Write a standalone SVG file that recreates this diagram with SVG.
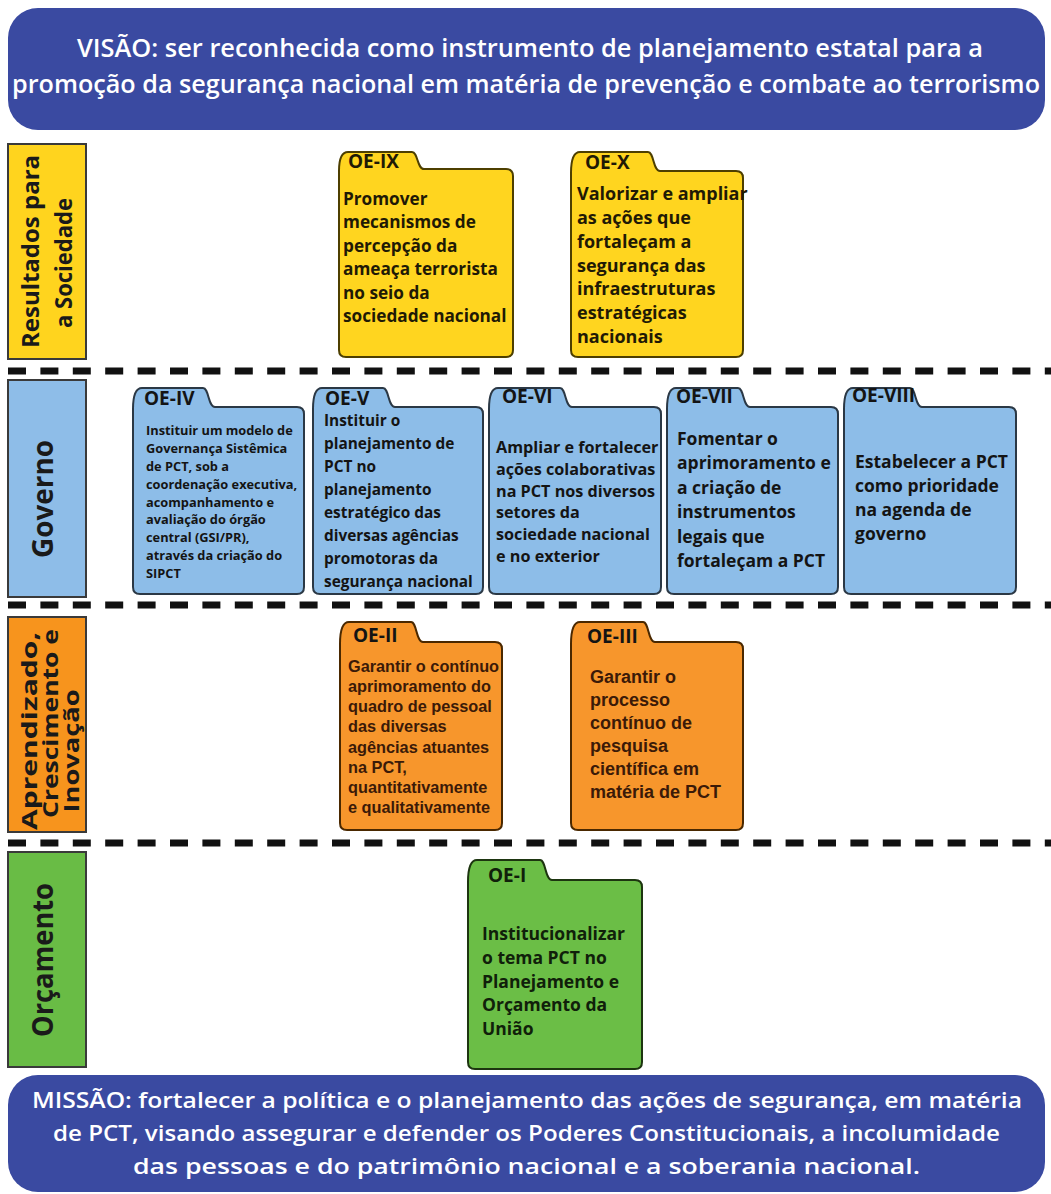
<svg xmlns="http://www.w3.org/2000/svg" width="1051" height="1194" viewBox="0 0 1051 1194">
<style>
.banner{fill:#3A4AA1}
.bt{font-family:"Open Sans","Liberation Sans",sans-serif;font-weight:600;fill:#fff;text-anchor:middle}
.lbl{stroke:#3a3a3a;stroke-width:2}
.lt{font-family:"Open Sans","Liberation Sans",sans-serif;font-weight:700;fill:#1a1a1a;text-anchor:middle}
.dash{stroke:#111;stroke-width:7;stroke-dasharray:18 14.4;fill:none}
.f{stroke-width:2;stroke-linejoin:round}
.y{fill:#FFD51F;stroke:#4d3f00}
.b{fill:#8DBDE8;stroke:#2b3845}
.o{fill:#F7962C;stroke:#4a2800}
.g{fill:#6BBE46;stroke:#1d3510}
.tab{font-family:"Open Sans","Liberation Sans",sans-serif;font-weight:700;font-size:19px;fill:#141414}
.tx{font-family:"Open Sans","Liberation Sans",sans-serif;font-weight:700;fill:#141414}
.ty{fill:#1f1a05}
.to{font-family:"Liberation Sans",Arial,sans-serif;font-weight:700;fill:#3b1a08}
.tg{fill:#10200a}
</style>

<g id="visao">
<rect class="banner" x="8" y="8" width="1037" height="122" rx="30" ry="30"/>
<text class="bt" font-size="25" x="530" y="57" textLength="906" lengthAdjust="spacingAndGlyphs">VISÃO: ser reconhecida como instrumento de planejamento estatal para a</text>
<text class="bt" font-size="25" x="526" y="93" textLength="1028" lengthAdjust="spacingAndGlyphs">promoção da segurança nacional em matéria de prevenção e combate ao terrorismo</text>
</g>

<g id="separators">
<line class="dash" x1="8" y1="371" x2="1051" y2="371"/>
<line class="dash" x1="8" y1="605" x2="1051" y2="605"/>
<line class="dash" x1="8" y1="843" x2="1051" y2="843"/>
</g>

<g id="row-resultados">
<rect class="lbl" x="8" y="144" width="78" height="215" fill="#FFD41E"/>
<text class="lt" font-size="24" transform="translate(39,251.5) rotate(-90)" textLength="193" lengthAdjust="spacingAndGlyphs">Resultados para</text>
<text class="lt" font-size="24" transform="translate(72,263) rotate(-90)" textLength="130" lengthAdjust="spacingAndGlyphs">a Sociedade</text>
</g>

<g id="row-governo">
<rect class="lbl" x="8" y="380" width="78" height="217" fill="#8EBDE8"/>
<text class="lt" font-size="28" transform="translate(53,499) rotate(-90)" textLength="118" lengthAdjust="spacingAndGlyphs">Governo</text>
</g>

<g id="row-aprendizado">
<rect class="lbl" x="8" y="617" width="78" height="215" fill="#F7941D"/>
<text class="lt" font-size="22" transform="translate(37,731) rotate(-90)" textLength="198" lengthAdjust="spacingAndGlyphs">Aprendizado,</text>
<text class="lt" font-size="22" transform="translate(58,723.5) rotate(-90)" textLength="189" lengthAdjust="spacingAndGlyphs">Crescimento e</text>
<text class="lt" font-size="22" transform="translate(79,751) rotate(-90)" textLength="123" lengthAdjust="spacingAndGlyphs">Inovação</text>
</g>

<g id="row-orcamento">
<rect class="lbl" x="8" y="852" width="78" height="215" fill="#69BC45"/>
<text class="lt" font-size="28" transform="translate(53,960) rotate(-90)" textLength="154" lengthAdjust="spacingAndGlyphs">Orçamento</text>
</g>

<g id="oe-ix">
<path class="f y" d="M346,357 Q339,357 339,350 L339,171 C339,160 341,152 348,152 L412,152 C418,152 417,169 424,169 L506,169 Q513,169 513,176 L513,350 Q513,357 506,357 Z"/>
<text class="tab ty" x="348" y="168">OE-IX</text>
<text class="tx ty" font-size="17.2">
<tspan x="343" y="205">Promover</tspan>
<tspan x="343" y="228.4">mecanismos de</tspan>
<tspan x="343" y="251.8">percepção da</tspan>
<tspan x="343" y="275.2">ameaça terrorista</tspan>
<tspan x="343" y="298.6">no seio da</tspan>
<tspan x="343" y="322">sociedade nacional</tspan>
</text>
</g>

<g id="oe-x">
<path class="f y" d="M578,357 Q571,357 571,350 L571,173 C571,161 573,152 580,152 L648,152 C654,152 653,171 660,171 L736,171 Q743,171 743,178 L743,350 Q743,357 736,357 Z"/>
<text class="tab ty" x="585" y="169">OE-X</text>
<text class="tx ty" font-size="18">
<tspan x="577" y="200">Valorizar e ampliar</tspan>
<tspan x="577" y="223.8">as ações que</tspan>
<tspan x="577" y="247.7">fortaleçam a</tspan>
<tspan x="577" y="271.5">segurança das</tspan>
<tspan x="577" y="295.3">infraestruturas</tspan>
<tspan x="577" y="319.2">estratégicas</tspan>
<tspan x="577" y="343">nacionais</tspan>
</text>
</g>

<g id="oe-iv">
<path class="f b" d="M140,594 Q133,594 133,587 L133,409 C133,398 135,388 142,388 L203,388 C209,388 208,407 215,407 L297,407 Q304,407 304,414 L304,587 Q304,594 297,594 Z"/>
<text class="tab" x="144" y="405">OE-IV</text>
<text class="tx" font-size="12.8">
<tspan x="146" y="435">Instituir um modelo de</tspan>
<tspan x="146" y="452.9">Governança Sistêmica</tspan>
<tspan x="146" y="470.8">de PCT, sob a</tspan>
<tspan x="146" y="488.6">coordenação executiva,</tspan>
<tspan x="146" y="506.5">acompanhamento e</tspan>
<tspan x="146" y="524.4">avaliação do órgão</tspan>
<tspan x="146" y="542.3">central (GSI/PR),</tspan>
<tspan x="146" y="560.1">através da criação do</tspan>
<tspan x="146" y="578">SIPCT</tspan>
</text>
</g>

<g id="oe-v">
<path class="f b" d="M320,594 Q313,594 313,587 L313,409 C313,398 315,388 322,388 L383,388 C389,388 388,407 395,407 L476,407 Q483,407 483,414 L483,587 Q483,594 476,594 Z"/>
<text class="tab" x="325" y="405">OE-V</text>
<text class="tx" font-size="15.4">
<tspan x="324" y="426">Instituir o</tspan>
<tspan x="324" y="449">planejamento de</tspan>
<tspan x="324" y="472">PCT no</tspan>
<tspan x="324" y="495">planejamento</tspan>
<tspan x="324" y="518">estratégico das</tspan>
<tspan x="324" y="541">diversas agências</tspan>
<tspan x="324" y="564">promotoras da</tspan>
<tspan x="324" y="587">segurança nacional</tspan>
</text>
</g>

<g id="oe-vi">
<path class="f b" d="M496,594 Q489,594 489,587 L489,409 C489,398 491,388 498,388 L560,388 C566,388 565,407 572,407 L654,407 Q661,407 661,414 L661,587 Q661,594 654,594 Z"/>
<text class="tab" x="502" y="403">OE-VI</text>
<text class="tx" font-size="16.2">
<tspan x="496" y="453">Ampliar e fortalecer</tspan>
<tspan x="496" y="474.8">ações colaborativas</tspan>
<tspan x="496" y="496.6">na PCT nos diversos</tspan>
<tspan x="496" y="518.4">setores da</tspan>
<tspan x="496" y="540.2">sociedade nacional</tspan>
<tspan x="496" y="562">e no exterior</tspan>
</text>
</g>

<g id="oe-vii">
<path class="f b" d="M674,594 Q667,594 667,587 L667,409 C667,398 669,388 676,388 L738,388 C744,388 743,407 750,407 L831,407 Q838,407 838,414 L838,587 Q838,594 831,594 Z"/>
<text class="tab" x="676" y="403">OE-VII</text>
<text class="tx" font-size="17.5">
<tspan x="677" y="445">Fomentar o</tspan>
<tspan x="677" y="469.4">aprimoramento e</tspan>
<tspan x="677" y="493.8">a criação de</tspan>
<tspan x="677" y="518.2">instrumentos</tspan>
<tspan x="677" y="542.6">legais que</tspan>
<tspan x="677" y="567">fortaleçam a PCT</tspan>
</text>
</g>

<g id="oe-viii">
<path class="f b" d="M851,594 Q844,594 844,587 L844,409 C844,398 846,388 853,388 L910,388 C916,388 915,407 922,407 L1009,407 Q1016,407 1016,414 L1016,587 Q1016,594 1009,594 Z"/>
<text class="tab" x="852" y="402" font-size="13.5">OE-VIII</text>
<text class="tx" font-size="17.5">
<tspan x="855" y="468">Estabelecer a PCT</tspan>
<tspan x="855" y="492">como prioridade</tspan>
<tspan x="855" y="516">na agenda de</tspan>
<tspan x="855" y="540">governo</tspan>
</text>
</g>

<g id="oe-ii">
<path class="f o" d="M347,830 Q340,830 340,823 L340,644 C340,632 342,622 349,622 L411,622 C417,622 416,642 423,642 L495,642 Q502,642 502,649 L502,823 Q502,830 495,830 Z"/>
<text class="tab" x="353" y="642" fill="#3b1a08">OE-II</text>
<text class="to" font-size="16.3">
<tspan x="348" y="672">Garantir o contínuo</tspan>
<tspan x="348" y="692.1">aprimoramento do</tspan>
<tspan x="348" y="712.3">quadro de pessoal</tspan>
<tspan x="348" y="732.4">das diversas</tspan>
<tspan x="348" y="752.6">agências atuantes</tspan>
<tspan x="348" y="772.7">na PCT,</tspan>
<tspan x="348" y="792.9">quantitativamente</tspan>
<tspan x="348" y="813">e qualitativamente</tspan>
</text>
</g>

<g id="oe-iii">
<path class="f o" d="M578,830 Q571,830 571,823 L571,644 C571,632 573,622 580,622 L643,622 C649,622 648,642 655,642 L736,642 Q743,642 743,649 L743,823 Q743,830 736,830 Z"/>
<text class="tab" x="587" y="643" fill="#3b1a08">OE-III</text>
<text class="to" font-size="18">
<tspan x="590" y="683">Garantir o</tspan>
<tspan x="590" y="706">processo</tspan>
<tspan x="590" y="729">contínuo de</tspan>
<tspan x="590" y="752">pesquisa</tspan>
<tspan x="590" y="775">científica em</tspan>
<tspan x="590" y="798">matéria de PCT</tspan>
</text>
</g>

<g id="oe-i">
<path class="f g" d="M475,1069 Q468,1069 468,1062 L468,882 C468,870 470,860 477,860 L540,860 C546,860 545,880 552,880 L635,880 Q642,880 642,887 L642,1062 Q642,1069 635,1069 Z"/>
<text class="tab tg" x="488" y="882">OE-I</text>
<text class="tx tg" font-size="17.5">
<tspan x="482" y="940">Institucionalizar</tspan>
<tspan x="482" y="963.75">o tema PCT no</tspan>
<tspan x="482" y="987.5">Planejamento e</tspan>
<tspan x="482" y="1011.25">Orçamento da</tspan>
<tspan x="482" y="1035">União</tspan>
</text>
</g>

<g id="missao">
<rect class="banner" x="8" y="1075" width="1037" height="117" rx="30" ry="30"/>
<text class="bt" font-size="22" x="527" y="1108" textLength="990" lengthAdjust="spacingAndGlyphs">MISSÃO: fortalecer a política e o planejamento das ações de segurança, em matéria</text>
<text class="bt" font-size="22" x="526.5" y="1141" textLength="947" lengthAdjust="spacingAndGlyphs">de PCT, visando assegurar e defender os Poderes Constitucionais, a incolumidade</text>
<text class="bt" font-size="22" x="526.5" y="1174" textLength="787" lengthAdjust="spacingAndGlyphs">das pessoas e do patrimônio nacional e a soberania nacional.</text>
</g>
</svg>
